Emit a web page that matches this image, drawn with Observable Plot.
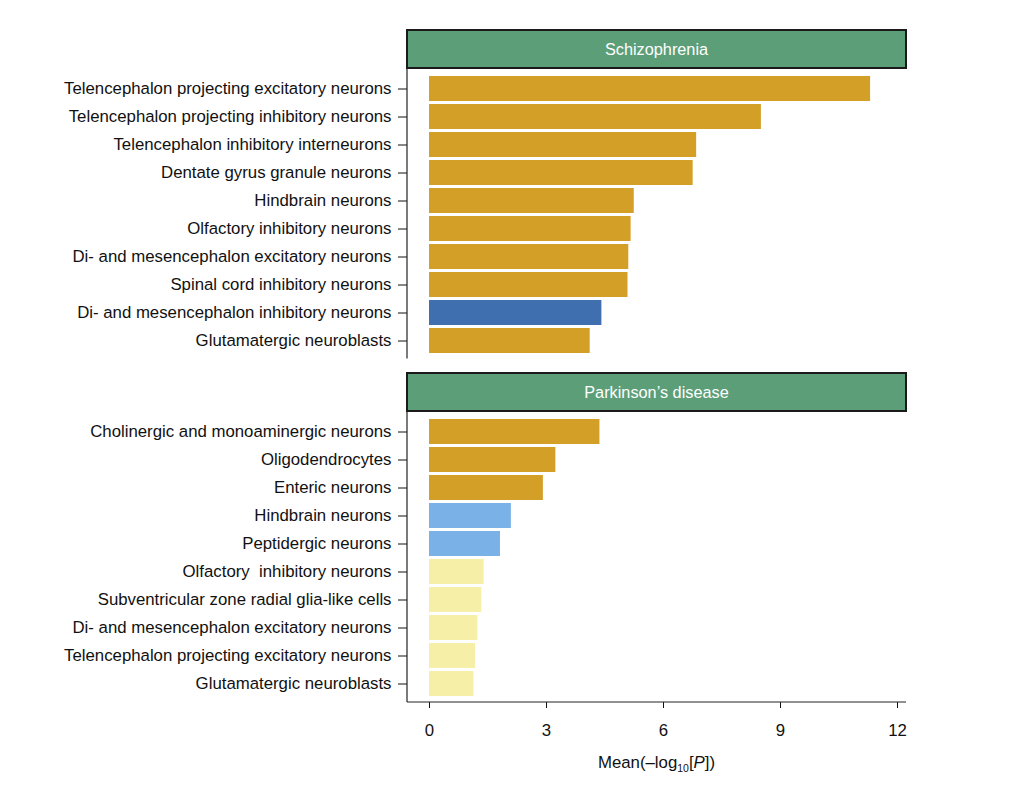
<!DOCTYPE html>
<html>
<head>
<meta charset="utf-8">
<script src="https://cdn.jsdelivr.net/npm/d3@7"></script>
<script src="https://cdn.jsdelivr.net/npm/@observablehq/plot@0.6"></script>
<style>
  body { margin: 0; background: #ffffff; }
  #chart svg { display: block; }
  #chart svg text { white-space: pre; }
</style>
</head>
<body>
<div id="chart"></div>
<script>
// Schizophrenia: mean −log10(P) per cell type
const schizoCells = [
  "Telencephalon projecting excitatory neurons",
  "Telencephalon projecting inhibitory neurons",
  "Telencephalon inhibitory interneurons",
  "Dentate gyrus granule neurons",
  "Hindbrain neurons",
  "Olfactory inhibitory neurons",
  "Di- and mesencephalon excitatory neurons",
  "Spinal cord inhibitory neurons",
  "Di- and mesencephalon inhibitory neurons",
  "Glutamatergic neuroblasts"
];
const schizoValues = [11.31, 8.51, 6.85, 6.76, 5.25, 5.17, 5.11, 5.09, 4.42, 4.12];
const schizoClass = ["I", "I", "I", "I", "I", "I", "I", "I", "II", "I"];

// Parkinson's disease: mean −log10(P) per cell type
const parkinsonCells = [
  "Cholinergic and monoaminergic neurons",
  "Oligodendrocytes",
  "Enteric neurons",
  "Hindbrain neurons",
  "Peptidergic neurons",
  "Olfactory  inhibitory neurons",
  "Subventricular zone radial glia-like cells",
  "Di- and mesencephalon excitatory neurons",
  "Telencephalon projecting excitatory neurons",
  "Glutamatergic neuroblasts"
];
const parkinsonValues = [4.37, 3.24, 2.92, 2.10, 1.82, 1.40, 1.34, 1.24, 1.18, 1.14];
const parkinsonClass = ["I", "I", "I", "III", "III", "IV", "IV", "IV", "IV", "IV"];

const panelTitles = ["Schizophrenia", "Parkinson\u2019s disease"];
const xTicks = [0, 3, 6, 9, 12];
const classNames = ["I", "II", "III", "IV"];
const classColors = ["#D49F26", "#3F6FAE", "#7AB2E8", "#F5EFA7"];

const FONT_FAMILY = "'Liberation Sans', Arial, Helvetica, sans-serif";
const FONT_SIZE = 16.8;

const rows = (cells, values, classes) =>
  cells.map((cell, i) => ({cell, value: values[i], cls: classes[i]}));

// Green strip title above the panel plus the left axis line
function panelHeader(title) {
  return (index, scales, values, dims) => {
    const g = d3.create("svg:g");
    const x0 = dims.marginLeft;
    const x1 = dims.width - dims.marginRight;
    const yBottom = dims.marginTop - 2;
    const h = 38;
    g.append("rect")
      .attr("x", x0).attr("y", yBottom - h)
      .attr("width", x1 - x0).attr("height", h)
      .attr("fill", "#5C9E78").attr("stroke", "#1a1a1a").attr("stroke-width", 2);
    g.append("text")
      .attr("x", (x0 + x1) / 2).attr("y", yBottom - h / 2)
      .attr("dy", "0.36em").attr("text-anchor", "middle")
      .attr("fill", "#ffffff").style("font-size", `${FONT_SIZE - 0.5}px`)
      .text(title);
    g.append("line")
      .attr("x1", x0).attr("x2", x0)
      .attr("y1", yBottom).attr("y2", dims.height - dims.marginBottom)
      .attr("stroke", "#222").attr("stroke-width", 1.2);
    return g.node();
  };
}

// Bottom axis line and the axis title with subscript
function bottomAxisDecor() {
  return (index, scales, values, dims) => {
    const g = d3.create("svg:g");
    const x0 = dims.marginLeft;
    const x1 = dims.width - dims.marginRight;
    const y = dims.height - dims.marginBottom;
    g.append("line")
      .attr("x1", x0).attr("x2", x1).attr("y1", y).attr("y2", y)
      .attr("stroke", "#222").attr("stroke-width", 1.2);
    const t = g.append("text")
      .attr("x", (x0 + x1) / 2).attr("y", y + 66)
      .attr("text-anchor", "middle").attr("fill", "#111")
      .style("font-size", `${FONT_SIZE}px`);
    t.append("tspan").text("Mean(\u2013log");
    t.append("tspan").attr("dy", 4).style("font-size", "10.5px").text("10");
    t.append("tspan").attr("dy", -4).text("[");
    t.append("tspan").style("font-style", "italic").text("P");
    t.append("tspan").text("])");
    return g.node();
  };
}

function panel(data, title, {height, marginTop, marginBottom, showX}) {
  return Plot.plot({
    width: 1009,
    height,
    marginLeft: 407,
    marginRight: 103,
    marginTop,
    marginBottom,
    style: {
      fontFamily: FONT_FAMILY,
      fontSize: `${FONT_SIZE}px`,
      color: "#111",
      background: "transparent",
      overflow: "visible"
    },
    x: showX
      ? {domain: [0, 12], insetLeft: 22, insetRight: 9, ticks: xTicks, tickSize: 6, tickPadding: 16, label: null}
      : {domain: [0, 12], insetLeft: 22, insetRight: 9, axis: null},
    y: {domain: data.map(d => d.cell), padding: 0.1, tickSize: 9, tickPadding: 7, label: null},
    color: {domain: classNames, range: classColors},
    marks: [
      panelHeader(title),
      Plot.barX(data, {x: "value", y: "cell", fill: "cls"}),
      showX ? bottomAxisDecor() : null
    ]
  });
}

const chart = document.getElementById("chart");
chart.append(
  panel(rows(schizoCells, schizoValues, schizoClass), panelTitles[0],
        {height: 365, marginTop: 70, marginBottom: 6.5, showX: false}),
  panel(rows(parkinsonCells, parkinsonValues, parkinsonClass), panelTitles[1],
        {height: 420, marginTop: 48, marginBottom: 83, showX: true})
);
</script>
</body>
</html>
